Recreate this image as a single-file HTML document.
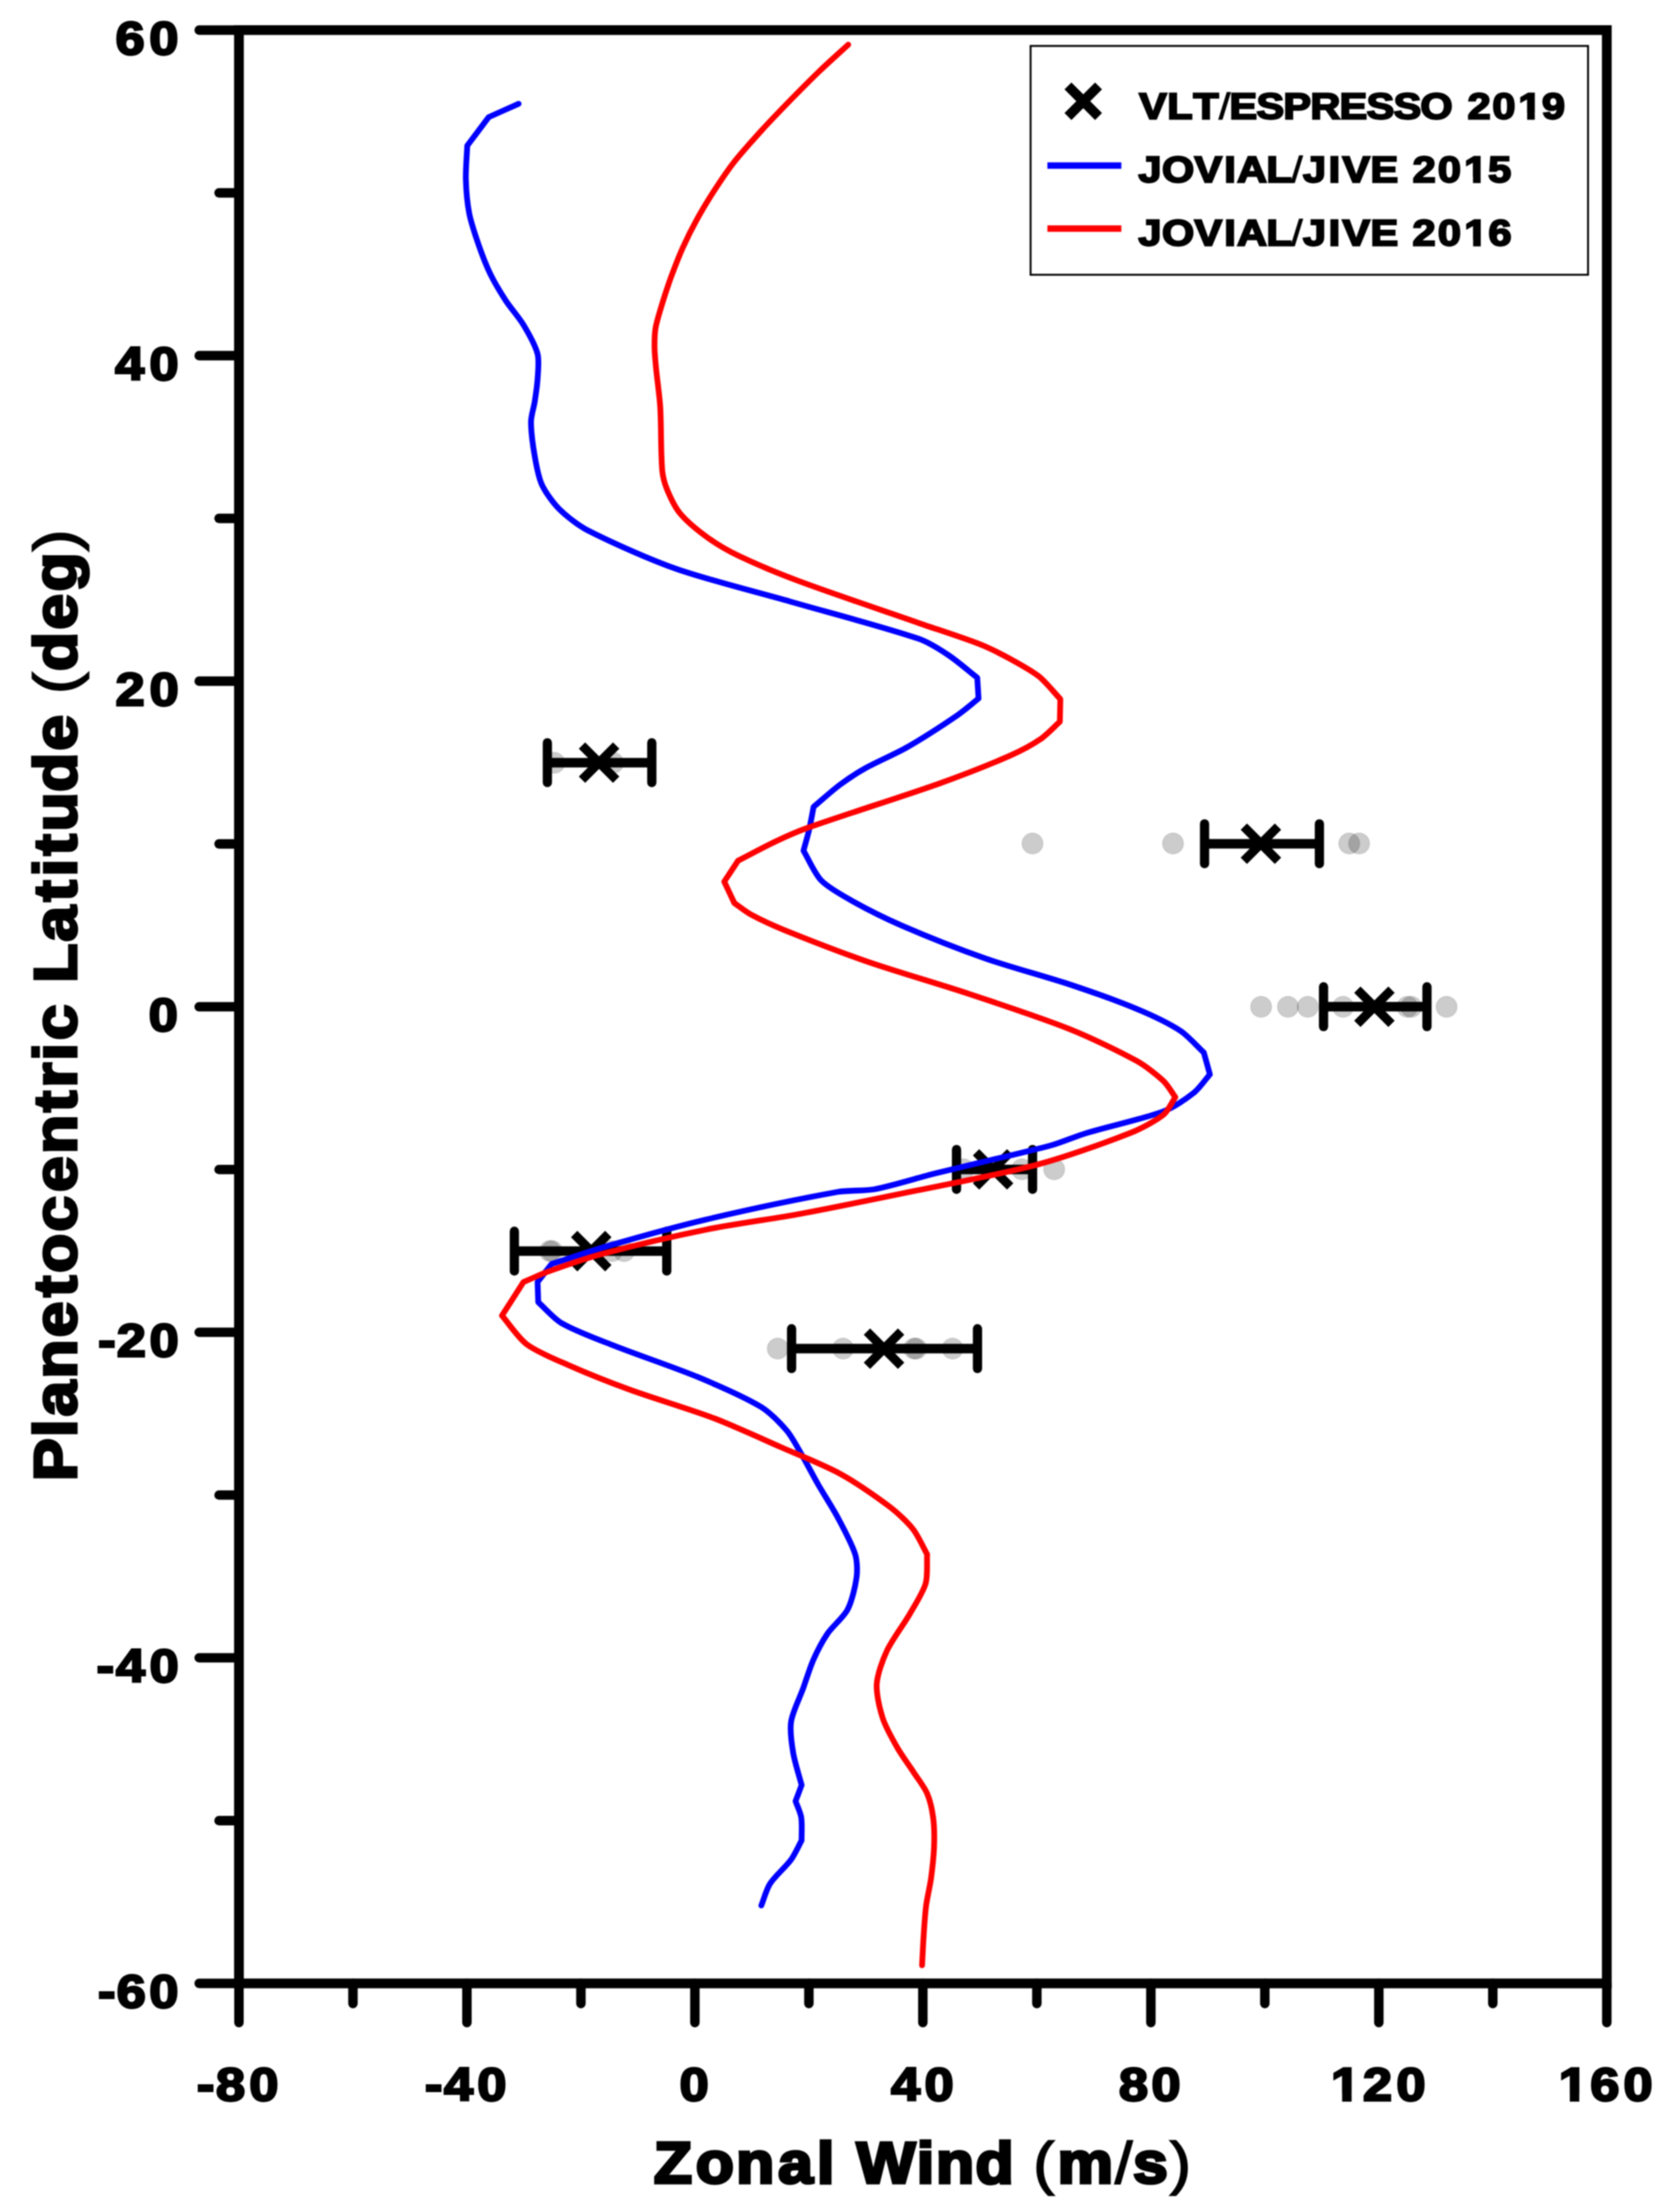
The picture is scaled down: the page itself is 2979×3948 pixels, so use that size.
<!DOCTYPE html>
<html lang="en"><head><meta charset="utf-8"><title>Zonal Wind vs Planetocentric Latitude</title>
<style>html,body{margin:0;padding:0;background:#fff}svg{display:block;filter:blur(0.8px)}text{font-family:"Liberation Sans",sans-serif;font-weight:bold;fill:#000;stroke:#000;stroke-linejoin:miter;paint-order:stroke}</style></head><body>
<svg width="2979" height="3948" viewBox="0 0 2979 3948">
<rect width="2979" height="3948" fill="#fff"/>
<g fill="#000" fill-opacity="0.2" stroke="#000" stroke-opacity="0.12" stroke-width="1.6">
<circle cx="989.5" cy="1361.5" r="18.7"/>
<circle cx="1094.4" cy="1361.5" r="18.7"/>
<circle cx="1842.9" cy="1505.5" r="18.7"/>
<circle cx="2093.7" cy="1505.5" r="18.7"/>
<circle cx="2408.3" cy="1505.5" r="18.7"/>
<circle cx="2425.9" cy="1505.5" r="18.7"/>
<circle cx="2251.0" cy="1797.0" r="18.7"/>
<circle cx="2298.9" cy="1797.0" r="18.7"/>
<circle cx="2334.3" cy="1797.0" r="18.7"/>
<circle cx="2397.2" cy="1797.0" r="18.7"/>
<circle cx="2512.0" cy="1797.0" r="18.7"/>
<circle cx="2519.0" cy="1797.0" r="18.7"/>
<circle cx="2582.0" cy="1797.0" r="18.7"/>
<circle cx="1719.8" cy="2087.0" r="18.7"/>
<circle cx="1824.1" cy="2087.0" r="18.7"/>
<circle cx="1881.6" cy="2087.0" r="18.7"/>
<circle cx="981.5" cy="2233.0" r="18.7"/>
<circle cx="985.5" cy="2233.0" r="18.7"/>
<circle cx="1092.5" cy="2233.0" r="18.7"/>
<circle cx="1114.0" cy="2233.0" r="18.7"/>
<circle cx="1388.2" cy="2407.0" r="18.7"/>
<circle cx="1504.8" cy="2407.0" r="18.7"/>
<circle cx="1631.5" cy="2407.0" r="18.7"/>
<circle cx="1635.5" cy="2407.0" r="18.7"/>
<circle cx="1700.2" cy="2407.0" r="18.7"/>
</g>
<g stroke="#000" fill="none">
<line x1="977.0" y1="1361.2" x2="1163.4" y2="1361.2" stroke-width="17"/>
<line x1="977.0" y1="1325.7" x2="977.0" y2="1396.7" stroke-width="16.5" stroke-linecap="round"/>
<line x1="1163.4" y1="1325.7" x2="1163.4" y2="1396.7" stroke-width="16.5" stroke-linecap="round"/>
<path d="M1038.8 1330.7L1099.8 1391.7M1038.8 1391.7L1099.8 1330.7" stroke-width="16"/>
<line x1="2150.0" y1="1505.9" x2="2355.0" y2="1505.9" stroke-width="17"/>
<line x1="2150.0" y1="1470.4" x2="2150.0" y2="1541.4" stroke-width="16.5" stroke-linecap="round"/>
<line x1="2355.0" y1="1470.4" x2="2355.0" y2="1541.4" stroke-width="16.5" stroke-linecap="round"/>
<path d="M2220.1 1475.4L2281.1 1536.4M2220.1 1536.4L2281.1 1475.4" stroke-width="16"/>
<line x1="2362.4" y1="1796.8" x2="2547.0" y2="1796.8" stroke-width="17"/>
<line x1="2362.4" y1="1761.3" x2="2362.4" y2="1832.3" stroke-width="16.5" stroke-linecap="round"/>
<line x1="2547.0" y1="1761.3" x2="2547.0" y2="1832.3" stroke-width="16.5" stroke-linecap="round"/>
<path d="M2422.7 1766.3L2483.7 1827.3M2422.7 1827.3L2483.7 1766.3" stroke-width="16"/>
<line x1="1707.3" y1="2087.2" x2="1843.0" y2="2087.2" stroke-width="17"/>
<line x1="1707.3" y1="2051.7" x2="1707.3" y2="2122.7" stroke-width="16.5" stroke-linecap="round"/>
<line x1="1843.0" y1="2051.7" x2="1843.0" y2="2122.7" stroke-width="16.5" stroke-linecap="round"/>
<path d="M1742.1 2056.7L1803.1 2117.7M1742.1 2117.7L1803.1 2056.7" stroke-width="16"/>
<line x1="918.1" y1="2233.0" x2="1190.1" y2="2233.0" stroke-width="17"/>
<line x1="918.1" y1="2197.5" x2="918.1" y2="2268.5" stroke-width="16.5" stroke-linecap="round"/>
<line x1="1190.1" y1="2197.5" x2="1190.1" y2="2268.5" stroke-width="16.5" stroke-linecap="round"/>
<path d="M1024.8 2202.5L1085.8 2263.5M1024.8 2263.5L1085.8 2202.5" stroke-width="16"/>
<line x1="1412.9" y1="2407.1" x2="1744.7" y2="2407.1" stroke-width="17"/>
<line x1="1412.9" y1="2371.6" x2="1412.9" y2="2442.6" stroke-width="16.5" stroke-linecap="round"/>
<line x1="1744.7" y1="2371.6" x2="1744.7" y2="2442.6" stroke-width="16.5" stroke-linecap="round"/>
<path d="M1547.4 2376.6L1608.4 2437.6M1547.4 2437.6L1608.4 2376.6" stroke-width="16"/>
</g>
<path d="M925.7 185.2C910.5 192.0 887.4 202.3 872.2 209.1C861.4 223.5 844.8 245.6 834.0 260.0C833.3 277.0 831.0 303.1 831.5 320.1C832.0 337.4 834.3 364.2 837.6 381.2C840.8 397.4 849.0 421.6 854.4 437.3C859.5 452.0 868.0 474.3 874.8 488.2C881.7 502.4 894.2 523.3 902.8 536.6C911.1 549.3 926.6 566.9 934.4 579.9C942.7 593.8 955.5 616.2 959.5 631.6C962.6 643.6 960.3 663.8 959.5 676.4C958.8 688.0 956.2 705.6 954.4 717.1C952.8 727.3 947.8 742.6 947.8 752.8C947.8 770.0 951.4 796.8 954.4 813.9C956.9 828.5 961.0 851.5 967.1 864.8C973.3 878.2 987.2 897.6 997.7 908.1C1010.3 920.7 1032.6 938.1 1048.6 946.3C1091.8 968.4 1160.6 998.9 1206.5 1015.1C1263.0 1035.0 1352.5 1057.0 1410.2 1073.6C1475.2 1092.3 1575.6 1118.3 1639.4 1139.9C1655.6 1145.4 1678.3 1159.6 1692.6 1169.1C1708.0 1179.3 1729.7 1198.1 1744.3 1209.5C1745.0 1220.1 1745.9 1236.2 1746.6 1246.8C1735.8 1255.3 1719.8 1269.2 1708.4 1276.9C1683.5 1293.9 1644.6 1319.0 1618.5 1334.0C1598.1 1345.7 1564.8 1359.8 1544.3 1371.3C1531.1 1378.7 1511.5 1391.4 1499.4 1400.5C1485.4 1410.9 1465.6 1428.9 1452.2 1440.1C1449.9 1451.8 1446.8 1469.8 1444.1 1481.4C1441.7 1491.9 1437.0 1507.8 1434.2 1518.3C1443.1 1533.3 1453.9 1559.0 1465.7 1571.3C1478.1 1584.2 1503.6 1598.2 1519.6 1607.2C1544.4 1621.1 1583.4 1640.6 1609.5 1651.9C1651.3 1670.0 1716.3 1695.7 1759.3 1710.8C1801.2 1725.5 1867.0 1743.0 1909.1 1757.0C1943.4 1768.4 1995.6 1786.8 2028.9 1800.7C2051.6 1810.2 2086.3 1826.4 2106.8 1839.7C2120.2 1848.4 2136.8 1867.6 2148.7 1878.6C2151.8 1889.6 2156.4 1906.5 2159.5 1917.6C2151.4 1926.9 2140.4 1942.9 2130.8 1950.5C2116.9 1961.5 2093.5 1977.3 2076.8 1983.5C2039.1 1997.6 1977.8 2010.6 1939.0 2022.4C1921.8 2027.6 1896.3 2038.2 1879.1 2043.4C1862.4 2048.4 1836.2 2054.3 1819.2 2058.4C1776.8 2068.7 1711.8 2083.8 1669.4 2094.3C1638.8 2101.9 1592.5 2116.6 1561.6 2122.5C1543.3 2126.0 1514.1 2124.0 1495.7 2127.3C1428.6 2139.4 1326.4 2161.1 1260.0 2176.7C1211.5 2188.1 1138.0 2208.5 1090.1 2222.3C1060.0 2231.0 1014.5 2246.3 984.6 2255.8C977.5 2265.0 966.6 2279.0 959.5 2288.2C959.8 2298.4 960.4 2313.9 960.7 2324.1C972.5 2334.7 988.6 2353.7 1002.2 2361.5C1027.1 2375.8 1069.5 2391.3 1096.6 2402.0C1139.1 2418.8 1205.5 2441.0 1247.6 2458.6C1279.5 2471.9 1328.7 2493.2 1358.1 2510.9C1373.1 2519.9 1392.6 2539.7 1404.0 2553.0C1413.3 2563.8 1423.6 2583.7 1430.9 2596.1C1439.7 2611.2 1451.9 2634.9 1460.6 2650.0C1470.0 2666.4 1485.9 2690.8 1494.8 2707.5C1504.6 2725.9 1520.2 2754.4 1526.4 2774.0C1529.9 2785.0 1530.5 2803.9 1528.9 2815.4C1526.6 2831.9 1520.4 2858.2 1512.8 2872.9C1505.6 2886.7 1485.7 2902.9 1476.8 2916.0C1468.4 2928.4 1457.7 2949.1 1451.6 2962.8C1445.5 2976.6 1438.8 2998.9 1433.7 3013.1C1427.6 3029.9 1414.8 3055.1 1412.1 3072.4C1409.7 3087.7 1413.1 3112.6 1415.7 3128.1C1418.4 3144.8 1426.5 3169.6 1430.8 3186.0C1427.7 3194.1 1423.1 3206.6 1420.0 3214.7C1422.9 3222.9 1428.8 3235.1 1430.1 3243.5C1431.9 3254.9 1430.6 3273.1 1430.8 3284.8C1425.5 3294.5 1418.6 3310.1 1412.1 3319.0C1402.6 3332.0 1383.1 3348.7 1374.4 3362.1C1368.0 3371.9 1363.3 3389.9 1358.9 3400.9" fill="none" stroke="#0000ff" stroke-width="10.3" stroke-linejoin="round" stroke-linecap="round"/>
<path d="M1514.0 79.7C1499.5 93.0 1477.2 113.0 1463.0 126.6C1448.3 140.7 1426.3 162.9 1412.0 177.5C1397.4 192.5 1375.1 215.5 1361.0 231.0C1346.2 247.3 1323.6 272.3 1310.0 289.6C1299.1 303.4 1284.2 325.8 1274.6 340.5C1265.5 354.6 1252.1 376.7 1244.0 391.4C1236.2 405.5 1225.2 427.6 1218.6 442.3C1212.2 456.5 1203.6 478.7 1198.2 493.3C1193.5 506.1 1186.9 526.0 1182.9 539.1C1179.0 552.0 1172.6 571.8 1170.2 585.0C1168.4 594.7 1168.2 610.1 1168.3 620.0C1168.4 630.2 1169.9 645.8 1170.9 656.0C1172.8 676.2 1177.3 707.0 1178.5 727.3C1180.4 759.0 1179.3 807.9 1182.0 839.4C1182.9 849.7 1187.2 865.5 1191.2 875.0C1196.4 887.4 1205.6 906.6 1214.2 916.8C1225.8 930.5 1247.8 948.5 1262.5 959.1C1277.4 969.9 1302.0 984.3 1318.6 992.2C1348.2 1006.3 1394.7 1025.5 1425.5 1037.0C1485.6 1059.4 1578.8 1090.6 1639.4 1111.8C1670.4 1122.6 1718.3 1137.8 1748.8 1149.8C1764.6 1156.0 1787.8 1167.7 1802.7 1175.8C1817.7 1184.0 1841.1 1196.7 1854.4 1207.3C1866.6 1217.1 1881.8 1236.3 1892.6 1247.7C1892.3 1259.2 1892.0 1276.7 1891.7 1288.2C1881.8 1297.1 1867.6 1312.2 1856.7 1319.6C1842.4 1329.3 1818.6 1341.8 1802.7 1348.8C1767.7 1364.1 1713.0 1385.4 1676.9 1398.3C1611.1 1421.7 1509.0 1453.6 1443.2 1476.9C1426.3 1482.9 1401.0 1493.9 1384.8 1501.6C1365.4 1510.7 1336.5 1526.4 1317.4 1536.2C1310.4 1546.8 1299.7 1562.9 1292.7 1573.5C1297.8 1584.3 1305.6 1600.9 1310.7 1611.7C1319.0 1617.5 1331.1 1627.2 1339.9 1632.0C1356.3 1640.9 1382.5 1652.9 1399.8 1659.9C1441.9 1676.9 1506.7 1702.0 1549.6 1716.8C1600.1 1734.2 1678.6 1756.9 1729.3 1773.8C1780.5 1790.9 1859.1 1816.7 1909.1 1836.7C1943.9 1850.6 1996.2 1875.5 2028.9 1893.6C2043.7 1901.8 2064.6 1918.0 2076.8 1929.5C2084.1 1936.3 2091.9 1950.1 2097.8 1958.3C2091.9 1967.1 2084.9 1983.1 2076.8 1989.5C2062.0 2001.2 2034.9 2015.3 2016.9 2022.4C1970.4 2040.8 1897.6 2066.5 1849.2 2079.3C1782.2 2097.0 1677.5 2116.2 1609.5 2130.3C1558.6 2140.8 1480.8 2156.8 1429.7 2166.2C1381.8 2175.0 1307.8 2185.0 1260.0 2194.7C1207.5 2205.3 1127.5 2224.1 1075.7 2237.8C1048.1 2245.1 1006.7 2259.4 979.8 2269.0C966.6 2273.7 947.2 2282.8 934.3 2288.2C923.4 2305.2 906.9 2331.1 896.0 2348.1C908.5 2362.6 925.1 2388.1 940.2 2399.3C959.0 2413.3 993.8 2427.4 1015.7 2437.0C1045.8 2450.3 1092.7 2468.9 1123.6 2480.2C1166.0 2495.7 1232.3 2515.4 1274.5 2531.4C1308.7 2544.4 1359.7 2567.8 1393.2 2582.6C1423.9 2596.1 1471.7 2615.2 1501.0 2631.2C1527.0 2645.4 1564.7 2671.5 1588.3 2689.5C1601.2 2699.3 1619.7 2716.5 1629.6 2729.1C1638.5 2740.4 1647.7 2761.3 1654.8 2774.0C1654.1 2788.8 1656.2 2812.3 1652.2 2826.2C1647.5 2842.4 1632.8 2865.2 1624.2 2880.1C1613.1 2899.3 1592.3 2926.7 1582.9 2946.6C1575.5 2962.3 1565.9 2988.9 1564.9 3005.9C1563.9 3023.0 1570.3 3050.5 1575.7 3067.0C1581.0 3083.1 1594.1 3106.1 1602.6 3120.9C1609.9 3133.6 1623.4 3151.8 1631.4 3164.1C1638.2 3174.5 1650.0 3189.8 1654.8 3201.0C1659.6 3212.3 1663.9 3231.3 1665.5 3243.5C1667.4 3257.6 1667.8 3279.6 1667.3 3293.8C1666.8 3310.1 1664.1 3335.1 1662.0 3351.3C1660.1 3365.6 1654.8 3387.3 1653.0 3401.6C1651.0 3416.8 1649.6 3440.3 1648.6 3455.6C1647.6 3470.3 1646.6 3492.9 1645.8 3507.7" fill="none" stroke="#ff0000" stroke-width="10.3" stroke-linejoin="round" stroke-linecap="round"/>
<g stroke="#000" fill="none">
<rect x="426.5" y="53.7" width="2441.5" height="3486.3" stroke-width="17.4"/>
<line x1="355.5" y1="53.7" x2="426.5" y2="53.7" stroke-width="16.9" stroke-linecap="round"/>
<line x1="391" y1="344.2" x2="426.5" y2="344.2" stroke-width="16.9" stroke-linecap="round"/>
<line x1="355.5" y1="634.8" x2="426.5" y2="634.8" stroke-width="16.9" stroke-linecap="round"/>
<line x1="391" y1="925.3" x2="426.5" y2="925.3" stroke-width="16.9" stroke-linecap="round"/>
<line x1="355.5" y1="1215.8" x2="426.5" y2="1215.8" stroke-width="16.9" stroke-linecap="round"/>
<line x1="391" y1="1506.3" x2="426.5" y2="1506.3" stroke-width="16.9" stroke-linecap="round"/>
<line x1="355.5" y1="1796.9" x2="426.5" y2="1796.9" stroke-width="16.9" stroke-linecap="round"/>
<line x1="391" y1="2087.4" x2="426.5" y2="2087.4" stroke-width="16.9" stroke-linecap="round"/>
<line x1="355.5" y1="2377.9" x2="426.5" y2="2377.9" stroke-width="16.9" stroke-linecap="round"/>
<line x1="391" y1="2668.4" x2="426.5" y2="2668.4" stroke-width="16.9" stroke-linecap="round"/>
<line x1="355.5" y1="2958.9" x2="426.5" y2="2958.9" stroke-width="16.9" stroke-linecap="round"/>
<line x1="391" y1="3249.5" x2="426.5" y2="3249.5" stroke-width="16.9" stroke-linecap="round"/>
<line x1="355.5" y1="3540.0" x2="426.5" y2="3540.0" stroke-width="16.9" stroke-linecap="round"/>
<line x1="426.5" y1="3540.0" x2="426.5" y2="3610" stroke-width="16.9" stroke-linecap="round"/>
<line x1="630.0" y1="3540.0" x2="630.0" y2="3576" stroke-width="16.9" stroke-linecap="round"/>
<line x1="833.4" y1="3540.0" x2="833.4" y2="3610" stroke-width="16.9" stroke-linecap="round"/>
<line x1="1036.9" y1="3540.0" x2="1036.9" y2="3576" stroke-width="16.9" stroke-linecap="round"/>
<line x1="1240.3" y1="3540.0" x2="1240.3" y2="3610" stroke-width="16.9" stroke-linecap="round"/>
<line x1="1443.8" y1="3540.0" x2="1443.8" y2="3576" stroke-width="16.9" stroke-linecap="round"/>
<line x1="1647.2" y1="3540.0" x2="1647.2" y2="3610" stroke-width="16.9" stroke-linecap="round"/>
<line x1="1850.7" y1="3540.0" x2="1850.7" y2="3576" stroke-width="16.9" stroke-linecap="round"/>
<line x1="2054.2" y1="3540.0" x2="2054.2" y2="3610" stroke-width="16.9" stroke-linecap="round"/>
<line x1="2257.6" y1="3540.0" x2="2257.6" y2="3576" stroke-width="16.9" stroke-linecap="round"/>
<line x1="2461.1" y1="3540.0" x2="2461.1" y2="3610" stroke-width="16.9" stroke-linecap="round"/>
<line x1="2664.5" y1="3540.0" x2="2664.5" y2="3576" stroke-width="16.9" stroke-linecap="round"/>
<line x1="2868.0" y1="3540.0" x2="2868.0" y2="3610" stroke-width="16.9" stroke-linecap="round"/>
</g>
<g>
<rect x="1839.5" y="82" width="995" height="408.4" fill="#fff" stroke="#000" stroke-width="3.4"/>
<path d="M1906.2 153.4L1960.8 208.0M1906.2 208.0L1960.8 153.4" stroke="#000" stroke-width="17.5" fill="none"/>
<line x1="1869.5" y1="295.6" x2="2001.5" y2="295.6" stroke="#0000ff" stroke-width="11.5"/>
<line x1="1869.5" y1="408" x2="2001.5" y2="408" stroke="#ff0000" stroke-width="11.5"/>
</g>
<text transform="translate(2032.0 211.9) scale(1.13 1)" x="1.1 45.6 86.7 127.1 143.9 186.5 229.1 271.6 317.7 360.4 403.0 445.3 496.2 519.9 559.1 600.2 637.4" y="0" font-size="65.48" stroke-width="3.3" xml:space="preserve">VLT<tspan font-weight="normal" stroke-width="1.6">/</tspan>ESPRESSO 2019</text><g transform="translate(2032.0 211.9) scale(1.13 1)" fill="#fff"><rect x="601.22" y="-9.93" width="12.76" height="13.08"/><rect x="626.06" y="-9.93" width="11.93" height="13.08"/></g>
<text transform="translate(2030.2 325.2) scale(1.13 1)" x="1.5 38.7 90.0 137.3 157.4 203.8 242.7 261.6 302.0 323.8 368.2 411.9 434.8 474.6 516.3 554.0" y="0" font-size="65.48" stroke-width="3.3" xml:space="preserve">JOVIAL<tspan font-weight="normal" stroke-width="1.6">/</tspan>JIVE 2015</text><g transform="translate(2030.2 325.2) scale(1.13 1)" fill="#fff"><rect x="517.30" y="-9.93" width="12.76" height="13.08"/><rect x="542.14" y="-9.93" width="11.93" height="13.08"/></g>
<text transform="translate(2030.2 437.8) scale(1.13 1)" x="1.5 38.7 90.0 137.3 157.4 203.8 242.7 261.6 302.0 323.8 368.2 411.9 434.6 474.6 516.5 554.4" y="0" font-size="65.48" stroke-width="3.3" xml:space="preserve">JOVIAL<tspan font-weight="normal" stroke-width="1.6">/</tspan>JIVE 2016</text><g transform="translate(2030.2 437.8) scale(1.13 1)" fill="#fff"><rect x="517.49" y="-9.93" width="12.76" height="13.08"/><rect x="542.33" y="-9.93" width="11.93" height="13.08"/></g>
<text transform="translate(202.2 97.1) scale(1.12 1)" x="3.7 57.5" y="0" font-size="83.42" stroke-width="3.9" xml:space="preserve">60</text>
<text transform="translate(200.9 678.1) scale(1.12 1)" x="4.1 58.8" y="0" font-size="83.42" stroke-width="3.9" xml:space="preserve">40</text>
<text transform="translate(202.0 1259.2) scale(1.12 1)" x="3.9 58.0" y="0" font-size="83.42" stroke-width="3.9" xml:space="preserve">20</text>
<text transform="translate(262.3 1840.3) scale(1.12 1)" x="2.9" y="0" font-size="83.42" stroke-width="3.9" xml:space="preserve">0</text>
<text transform="translate(176.2 2421.3) scale(1.12 1)" x="-0.9 28.9 81.1" y="0" font-size="83.42" stroke-width="3.9" xml:space="preserve">-20</text>
<text transform="translate(173.0 3002.3) scale(1.12 1)" x="-0.5 30.3 83.9" y="0" font-size="83.42" stroke-width="3.9" xml:space="preserve">-40</text>
<text transform="translate(176.0 3583.4) scale(1.12 1)" x="-0.9 28.8 80.8" y="0" font-size="83.42" stroke-width="3.9" xml:space="preserve">-60</text>
<text transform="translate(352.2 3749.0) scale(1.12 1)" x="-0.6 29.8 82.9" y="0" font-size="83.42" stroke-width="3.9" xml:space="preserve">-80</text>
<text transform="translate(759.1 3749.0) scale(1.12 1)" x="-0.6 29.8 82.9" y="0" font-size="83.42" stroke-width="3.9" xml:space="preserve">-40</text>
<text transform="translate(1209.7 3749.0) scale(1.12 1)" x="2.9" y="0" font-size="83.42" stroke-width="3.9" xml:space="preserve">0</text>
<text transform="translate(1586.5 3749.0) scale(1.12 1)" x="3.5 56.9" y="0" font-size="83.42" stroke-width="3.9" xml:space="preserve">40</text>
<text transform="translate(1994.0 3749.0) scale(1.12 1)" x="2.8 54.7" y="0" font-size="83.42" stroke-width="3.9" xml:space="preserve">80</text>
<text transform="translate(2368.8 3749.0) scale(1.12 1)" x="6.3 57.0 110.5" y="0" font-size="83.42" stroke-width="3.9" xml:space="preserve">120</text><g transform="translate(2368.8 3749.0) scale(1.12 1)" fill="#fff"><rect x="8.07" y="-12.06" width="15.82" height="15.51"/><rect x="39.03" y="-12.06" width="14.76" height="15.51"/></g>
<text transform="translate(2775.5 3749.0) scale(1.12 1)" x="6.0 56.2 109.2" y="0" font-size="83.42" stroke-width="3.9" xml:space="preserve">160</text><g transform="translate(2775.5 3749.0) scale(1.12 1)" fill="#fff"><rect x="7.78" y="-12.06" width="15.82" height="15.51"/><rect x="38.74" y="-12.06" width="14.76" height="15.51"/></g>
<text transform="translate(1162.3 3896.3) scale(1.07 1)" x="4.6 74.6 141.7 211.8 276.6 305.4 342.8 443.1 475.2 541.1 604.5 637.5 678.1 773.9 803.9 865.5" y="0" font-size="103.83" stroke-width="5.5" xml:space="preserve">Zonal Wind <tspan font-weight="normal" stroke-width="3.0">(</tspan>m<tspan font-weight="normal" stroke-width="3.0">/</tspan>s<tspan font-weight="normal" stroke-width="3.0">)</tspan></text>
<text transform="translate(135.8 2638.9) rotate(-90) translate(-4.6 0.0) scale(1.07 1)" x="-0.0 73.2 107.8 170.9 240.0 307.0 347.2 416.2 482.3 545.5 615.5 656.4 700.9 735.6 795.2 831.0 899.8 966.7 1008.1 1043.5 1083.6 1149.5 1218.4 1278.1 1313.1 1350.9 1420.3 1483.9 1551.5" y="0" font-size="107.32" stroke-width="4.9" xml:space="preserve">Planetocentric Latitude <tspan font-weight="normal" stroke-width="3.0">(</tspan>deg<tspan font-weight="normal" stroke-width="3.0">)</tspan></text>
</svg></body></html>
